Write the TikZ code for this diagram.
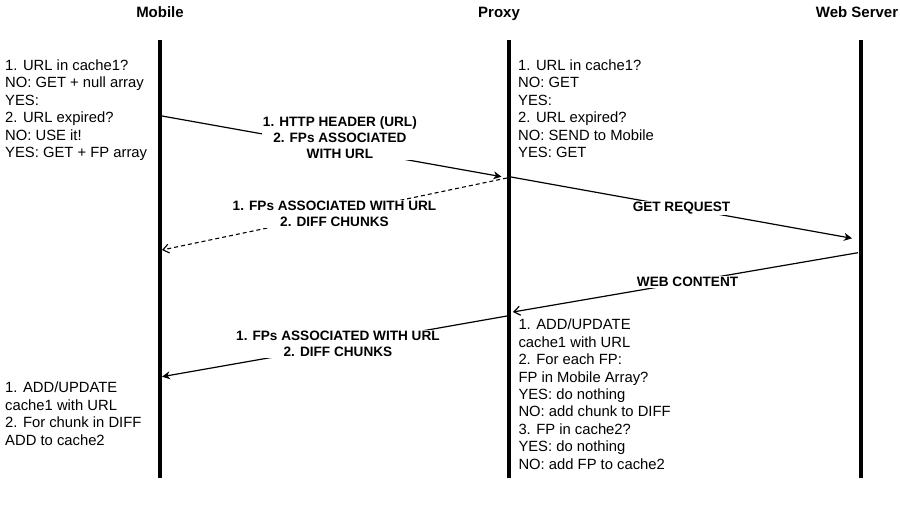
\documentclass[tikz,border=0pt]{standalone}
\usepackage{fontspec}
\setmainfont{Liberation Sans}
\usetikzlibrary{arrows.meta}
\begin{document}
\begin{tikzpicture}[x=1pt,y=-1pt,
  title/.style={font=\bfseries\fontsize{15}{18}\selectfont, anchor=base, inner sep=0pt},
  note/.style={font=\fontsize{14.8}{17.4}\selectfont, align=left, anchor=north west, inner sep=0pt},
  lbl/.style={font=\bfseries\fontsize{13.6}{16}\selectfont, align=center, fill=white, inner sep=1pt},
  lifeline/.style={line width=4pt},
  msg/.style={line width=1.2pt, -{Stealth[length=8pt,width=8pt,inset=2.5pt]}},
  reply/.style={line width=1.1pt, dash pattern=on 4pt off 3pt, -{Straight Barb[length=6pt,width=9pt,line width=1.1pt]}},
  answer/.style={line width=1.2pt, -{Straight Barb[length=6pt,width=9pt,line width=1.2pt]}}
]
\useasboundingbox (0,0) rectangle (900,508);

% titles
\node[title] (tm) at (160,17.5) {Mobile};
\node[title] (tp) at (499,17.5) {Proxy};
\node[title] (tw) at (857,17.5) {Web Server};

% lifelines
\coordinate (mtop) at (159.7,40.5);
\coordinate (mbot) at (159.7,477.5);
\coordinate (ptop) at (509,40.5);
\coordinate (pbot) at (509,477.5);
\coordinate (wtop) at (860.5,40.5);
\coordinate (wbot) at (860.5,477.5);
\draw[lifeline] (mtop) -- (mbot);
\draw[lifeline] (ptop) -- (pbot);
\draw[lifeline] (wtop) -- (wbot);

% notes
\node[note] (n1) at (5,59.5) {1. URL in cache1?\\NO: GET + null array\\YES:\\2. URL expired?\\NO: USE it!\\YES: GET + FP array};
\node[note] (n2) at (518,59.5) {1. URL in cache1?\\NO: GET\\YES:\\2. URL expired?\\NO: SEND to Mobile\\YES: GET};
\node[note] (n3) at (5,382) {1. ADD/UPDATE\\cache1 with URL\\2. For chunk in DIFF\\ADD to cache2};
\node[note] (n4) at (518.3,319) {1. ADD/UPDATE\\cache1 with URL\\2. For each FP:\\FP in Mobile Array?\\YES: do nothing\\NO: add chunk to DIFF\\3. FP in cache2?\\YES: do nothing\\NO: add FP to cache2};

% message end points
\coordinate (m1) at (162,116);
\coordinate (p1) at (501.5,176.7);
\coordinate (p2) at (507,178);
\coordinate (m2) at (162,250);
\coordinate (p3) at (511,177);
\coordinate (w1) at (852,238.3);
\coordinate (w2) at (858,252.7);
\coordinate (p4) at (513,312);
\coordinate (p5) at (507,316);
\coordinate (m3) at (162,376.7);

% messages
\draw[msg] (m1) -- node[lbl, pos=0.524, yshift=9.8pt] (l1) {1. HTTP HEADER (URL)\\2. FPs ASSOCIATED\\WITH URL} (p1);
\draw[reply] (p2) -- node[lbl, midway] (l2) {1. FPs ASSOCIATED WITH URL\\2. DIFF CHUNKS} (m2);
\draw[msg] (p3) -- node[lbl, midway] (l3) {GET REQUEST} (w1);
\draw[answer] (w2) -- node[lbl, pos=0.494] (l4) {WEB CONTENT} (p4);
\draw[msg] (p5) -- node[lbl, pos=0.49, yshift=1.5pt] (l5) {1. FPs ASSOCIATED WITH URL\\2. DIFF CHUNKS} (m3);
\end{tikzpicture}
\end{document}
